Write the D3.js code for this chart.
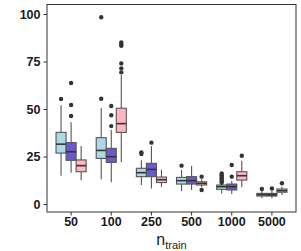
<!DOCTYPE html>
<html lang="en">
<head>
    <meta charset="UTF-8">
    <title>Boxplots by n_train</title>
    <style>
        body { margin: 0; background: #fff; }
        .tick-label { font-family: "Liberation Sans", Arial, sans-serif; font-size: 12.5px; font-weight: bold; fill: #1a1a1a; }
    </style>
</head>
<body>
<script src="https://d3js.org/d3.v7.min.js"></script>
<script>
    const width = 301;
    const height = 251;

    const categories = ['50', '100', '250', '500', '1000', '5000'];
    const series = ['a', 'b', 'c'];
    const colors = ['#add8e6', '#6a5acd', '#ffb6c1'];

    // [lower whisker, q1, median, q3, upper whisker] per category
    const statsA = [
        [14.9, 26.8, 31.5, 37.7, 52], [13, 24, 28.2, 34.9, 50.5], [10, 14.4, 16.5, 18.8, 23],
        [6.8, 10.5, 12.3, 14, 17.9], [5.6, 7.7, 9.1, 10, 10.9], [3, 4.2, 4.9, 5.6, 7]
    ];
    const statsB = [
        [16.5, 23, 27.5, 32.3, 43], [11.4, 21.9, 24.9, 29.3, 39], [8.2, 14.4, 18.2, 21.4, 30.5],
        [7.4, 10.5, 12.3, 14.4, 20], [5.3, 7.4, 9.1, 10.5, 12.3], [3, 4.2, 4.9, 5.6, 7]
    ];
    const statsC = [
        [12.5, 17, 20.2, 23.2, 30.5], [22, 37.7, 42.3, 50.4, 67.9], [9, 11.3, 12.8, 14.2, 18],
        [8.8, 10, 10.9, 11.7, 13], [8.8, 12.6, 14.9, 17, 22.8], [4.7, 6.2, 7, 7.9, 9.1]
    ];
    const outliersA = [[55.3], [98.3, 55.4], [26.3, 27.2], [20.2], [11.2, 12, 12.8, 13.6, 14.4, 15.2, 16.1], [7.9]];
    const outliersB = [[63.7, 52.1, 46.3], [51.6, 46.7, 41], [32.3], [], [20.5, 14.4], [8.2]];
    const outliersC = [[], [85, 84, 83.3, 74, 71.4, 69.3], [], [14.4, 7.4], [25.4], [10.9]];

    const yTicks = [0, 25, 50, 75, 100];

    const allStats = [statsA, statsB, statsC];
    const allOutliers = [outliersA, outliersB, outliersC];

    const panel = {left: 47, right: 296, top: 4.5, bottom: 212};

    const svg = d3.select('body').append('svg').attr('width', width).attr('height', height);

    const x = d3.scaleBand().domain(categories).range([panel.left, panel.right]).paddingOuter(0.1).paddingInner(0);
    const xSub = d3.scaleBand().domain(series).range([0, x.bandwidth() * 0.75]);
    const y = d3.scaleLinear().domain([-4.2, 105]).range([panel.bottom, panel.top]);

    const offset = x.bandwidth() * 0.125;

    const g = svg.append('g');

    series.forEach((s, si) => {
        categories.forEach((c, ci) => {
            const st = allStats[si][ci];
            const x0 = x(c) + offset + xSub(s);
            const w = xSub.bandwidth();
            const cx = x0 + w / 2;
            const grp = g.append('g');
            // whiskers
            grp.append('line').attr('x1', cx).attr('x2', cx).attr('y1', y(st[0])).attr('y2', y(st[1]))
                .attr('stroke', '#555').attr('stroke-width', 1.1);
            grp.append('line').attr('x1', cx).attr('x2', cx).attr('y1', y(st[3])).attr('y2', y(st[4]))
                .attr('stroke', '#555').attr('stroke-width', 1.1);
            grp.append('rect').attr('x', x0).attr('width', w)
                .attr('y', y(st[3])).attr('height', y(st[1]) - y(st[3]))
                .attr('fill', colors[si]).attr('stroke', '#555').attr('stroke-width', 1.1);
            grp.append('line').attr('x1', x0).attr('x2', x0 + w).attr('y1', y(st[2])).attr('y2', y(st[2]))
                .attr('stroke', '#333').attr('stroke-width', 1.6);
            grp.selectAll('circle').data(allOutliers[si][ci]).enter().append('circle')
                .attr('cx', cx).attr('cy', d => y(d)).attr('r', 2.2).attr('fill', '#333');
        });
    });

    // panel border
    svg.append('rect').attr('x', panel.left).attr('y', panel.top)
        .attr('width', panel.right - panel.left).attr('height', panel.bottom - panel.top)
        .attr('fill', 'none').attr('stroke', '#333').attr('stroke-width', 1);

    const yAxis = svg.append('g').attr('transform', `translate(${panel.left},0)`)
        .call(d3.axisLeft(y).tickValues(yTicks).tickSize(3.5).tickPadding(3));
    yAxis.select('.domain').remove();
    yAxis.selectAll('line').attr('stroke', '#333');
    yAxis.selectAll('text').attr('class', 'tick-label');

    const xAxis = svg.append('g').attr('transform', `translate(0,${panel.bottom})`)
        .call(d3.axisBottom(x).tickSize(3.5).tickPadding(2));
    xAxis.select('.domain').remove();
    xAxis.selectAll('line').attr('stroke', '#333');
    xAxis.selectAll('text').attr('class', 'tick-label');

    const title = svg.append('text').attr('x', (panel.left + panel.right) / 2).attr('y', 245)
        .attr('text-anchor', 'middle')
        .style('font-family', '"Liberation Sans", Arial, sans-serif').style('font-size', '16px').attr('fill', '#1a1a1a');
    title.append('tspan').text('n');
    title.append('tspan').attr('dy', 4).style('font-size', '11px').text('train');
</script>
</body>
</html>
